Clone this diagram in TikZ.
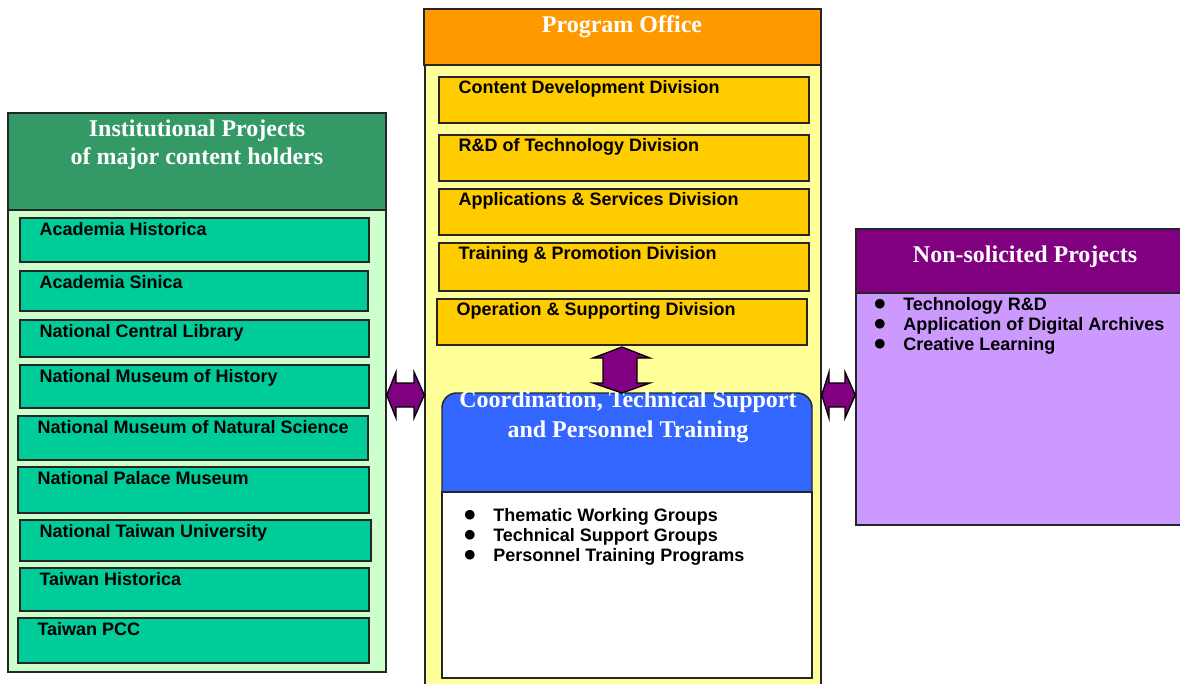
\documentclass[tikz,border=0pt]{standalone}
\usepackage{fontspec}
\setmainfont{Liberation Sans}
\newfontfamily\hdfont{Liberation Serif}
\newfontfamily\symfont{DejaVu Sans}
\usetikzlibrary{fit,calc}
\definecolor{hdgreen}{HTML}{339966}
\definecolor{lgreen}{HTML}{CCFFCC}
\definecolor{itgreen}{HTML}{00CC99}
\definecolor{orng}{HTML}{FF9900}
\definecolor{lyell}{HTML}{FFFF99}
\definecolor{gold}{HTML}{FFCC00}
\definecolor{purp}{HTML}{800080}
\definecolor{lpurp}{HTML}{CC99FF}
\definecolor{cblue}{HTML}{3366FF}
\begin{document}
\begin{tikzpicture}[x=0.75pt,y=-0.75pt,
  box/.style={draw=black!85, line width=1.1pt, inner sep=0pt},
  lbl/.style={font=\bfseries\fontsize{13.5}{15}\selectfont, anchor=base west, inner sep=0pt},
  bul/.style={font=\symfont\fontsize{9.5}{10}\selectfont, anchor=base, inner sep=0pt, yshift=1.6pt},
  hd/.style={font=\hdfont\bfseries\fontsize{18}{21}\selectfont, text=white, align=center, inner sep=0pt},
  barrow/.style={fill=purp, draw=black, line width=1pt, line join=miter}]
\useasboundingbox (0,0) rectangle (1180,683);
\fill[white] (0,0) rectangle (1180,683);

% ---------- left panel ----------
\node[box, fill=lgreen, fit={(8,210) (386,672)}] (lbody) {};
\node[box, fill=hdgreen, fit={(8,113) (386,210)}] (lhead) {};
\node[hd, anchor=base] (lhtxt) at (197,164) {Institutional Projects\\of major content holders};

\foreach \i/\xa/\ya/\xb/\yb/\t in {
  1/20/218/369/262/Academia Historica,
  2/20/271/368/311/Academia Sinica,
  3/20/320/369/357/National Central Library,
  4/20/365/369/408/National Museum of History,
  5/18/416/368/460/National Museum of Natural Science,
  6/18/467/369/513/National Palace Museum,
  7/20/520/371/561/National Taiwan University,
  8/20/568/369/611/Taiwan Historica,
  9/18/618/369/663/Taiwan PCC}{
  \node[box, fill=itgreen, fit={(\xa,\ya) (\xb,\yb)}] (it\i) {};
  \node[lbl] (itt\i) at ($(it\i.north west)+(20,18)$) {\t};
}

% ---------- centre panel ----------
\node[box, fill=lyell, fit={(425,65) (821,700)}] (cbody) {};
\node[box, fill=orng, fit={(424,9) (821,65)}] (chead) {};
\node[hd, anchor=base] (chtxt) at (622,32) {Program Office};

\foreach \i/\xa/\ya/\xb/\yb/\t in {
  1/439/77/809/123/Content Development Division,
  2/439/135/809/181/R\&D of Technology Division,
  3/439/189/809/235/Applications \& Services Division,
  4/439/243/809/291/Training \& Promotion Division,
  5/437/299/807/345/Operation \& Supporting Division}{
  \node[box, fill=gold, fit={(\xa,\ya) (\xb,\yb)}] (dv\i) {};
  \node[lbl] (dvt\i) at ($(dv\i.north west)+(20,17.5)$) {\t};
}

\node[box, fill=cblue, rounded corners=11pt, fit={(442,393) (812,510)}] (coord) {};
\node[box, fill=white, fit={(442,492) (812,678)}] (cbox) {};
\node[hd, anchor=base] (coordt) at (628,437) {Coordination, Technical Support\\[1pt]and Personnel Training};
\foreach \j/\y/\t in {1/521/Thematic Working Groups, 2/541/Technical Support Groups, 3/561/Personnel Training Programs}{
  \node[bul] (cb\j) at (470,\y) {●};
  \node[lbl] (ct\j) at (493,\y) {\t};
}

% ---------- right panel ----------
\node[box, fill=lpurp, fit={(856,293) (1182,525)}] (rbody) {};
\node[box, fill=purp, fit={(856,229) (1182,293)}] (rhead) {};
\node[hd, anchor=base] (rhtxt) at (1025,262) {Non-solicited Projects};
\foreach \j/\y/\t in {1/310/Technology R\&D, 2/330/Application of Digital Archives, 3/350/Creative Learning}{
  \node[bul] (rb\j) at (880,\y) {●};
  \node[lbl] (rt\j) at (903,\y) {\t};
}

% ---------- double arrows ----------
\coordinate (la1) at (lbody.east |- 0,395);
\coordinate (la2) at (cbody.west |- 0,395);
\draw[barrow] (la1) -- (396,372) -- (396,383) -- (414,383) -- (414,372) -- (la2)
  -- (414,418) -- (414,407) -- (396,407) -- (396,418) -- cycle;

\coordinate (ra1) at (cbody.east |- 0,395);
\coordinate (ra2) at (rbody.west |- 0,395);
\draw[barrow] (ra1) -- (829,372) -- (829,383) -- (845,383) -- (845,372) -- (ra2)
  -- (845,418) -- (845,407) -- (829,407) -- (829,418) -- cycle;

\coordinate (va1) at (622,347);
\coordinate (va2) at (622,393);
\draw[barrow] (va1) -- (650,358) -- (637,358) -- (637,383) -- (650,383) -- (va2)
  -- (593,383) -- (603,383) -- (603,358) -- (593,358) -- cycle;
\end{tikzpicture}
\end{document}
